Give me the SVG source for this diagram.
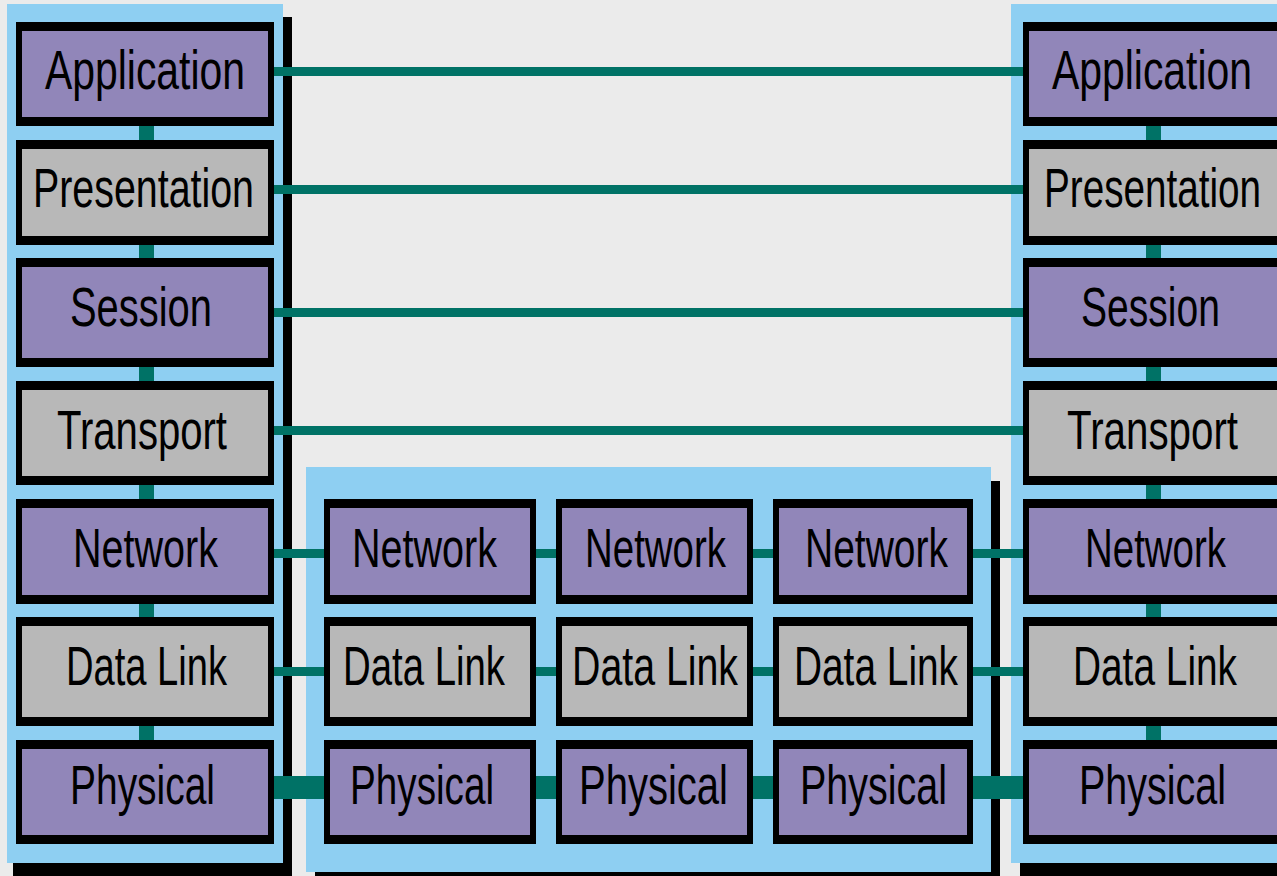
<svg xmlns="http://www.w3.org/2000/svg" width="1277" height="876" viewBox="0 0 1277 876">
<style>
.bg{fill:#EBEBEB}
.cont{fill:#8ECFF2}
.shadow{fill:#000}
.conn{fill:#007266}
.outer{fill:#000}
.p{fill:#9186B9}
.g{fill:#B8B8B8}
.t{font-family:"Liberation Sans Narrow","Liberation Sans",Arial,sans-serif;font-size:56px;fill:#000;text-anchor:middle}
</style>
<rect class="bg" x="0" y="0" width="1277" height="876"/>
<g id="containers">
<rect class="shadow" x="13" y="17" width="279" height="859"/>
<rect class="cont" x="7" y="4" width="276" height="859"/>
<rect class="shadow" x="315" y="481" width="685" height="395"/>
<rect class="cont" x="306" y="467" width="685" height="405"/>
<rect class="shadow" x="1020" y="17" width="257" height="859"/>
<rect class="cont" x="1011" y="4" width="266" height="859"/>
</g>
<g id="connectors">
<rect class="conn" x="139" y="120" width="15" height="630"/>
<rect class="conn" x="1146" y="120" width="15" height="630"/>
<rect class="conn" x="270" y="67" width="760" height="9"/>
<rect class="conn" x="270" y="185" width="760" height="9"/>
<rect class="conn" x="270" y="308" width="760" height="9"/>
<rect class="conn" x="270" y="426" width="760" height="9"/>
<rect class="conn" x="270" y="549" width="760" height="9"/>
<rect class="conn" x="270" y="667" width="760" height="9"/>
<rect class="conn" x="270" y="776" width="760" height="23"/>
</g>
<g id="left-application"><rect class="outer" x="16" y="22" width="258" height="104"/><rect class="p" x="22" y="31" width="246" height="86"/><text class="t" x="145" y="89" textLength="200" lengthAdjust="spacingAndGlyphs">Application</text></g>
<g id="left-presentation"><rect class="outer" x="16" y="140" width="258" height="105"/><rect class="g" x="22" y="149" width="246" height="87"/><text class="t" x="143.5" y="207" textLength="221" lengthAdjust="spacingAndGlyphs">Presentation</text></g>
<g id="left-session"><rect class="outer" x="16" y="258" width="258" height="109"/><rect class="p" x="22" y="267" width="246" height="91"/><text class="t" x="141" y="326" textLength="142" lengthAdjust="spacingAndGlyphs">Session</text></g>
<g id="left-transport"><rect class="outer" x="16" y="381" width="258" height="104"/><rect class="g" x="22" y="390" width="246" height="86"/><text class="t" x="142" y="449" textLength="170" lengthAdjust="spacingAndGlyphs">Transport</text></g>
<g id="left-network"><rect class="outer" x="16" y="499" width="258" height="105"/><rect class="p" x="22" y="508" width="246" height="87"/><text class="t" x="145.5" y="567" textLength="145" lengthAdjust="spacingAndGlyphs">Network</text></g>
<g id="left-datalink"><rect class="outer" x="16" y="617" width="258" height="109"/><rect class="g" x="22" y="626" width="246" height="91"/><text class="t" x="146.5" y="685" textLength="161" lengthAdjust="spacingAndGlyphs">Data Link</text></g>
<g id="left-physical"><rect class="outer" x="16" y="740" width="258" height="104"/><rect class="p" x="22" y="749" width="246" height="86"/><text class="t" x="142.5" y="804" textLength="145" lengthAdjust="spacingAndGlyphs">Physical</text></g>
<g id="mid1-network"><rect class="outer" x="324" y="499" width="212" height="105"/><rect class="p" x="330" y="508" width="200" height="87"/><text class="t" x="424.5" y="567" textLength="145" lengthAdjust="spacingAndGlyphs">Network</text></g>
<g id="mid1-datalink"><rect class="outer" x="324" y="617" width="212" height="109"/><rect class="g" x="330" y="626" width="200" height="91"/><text class="t" x="424" y="685" textLength="162" lengthAdjust="spacingAndGlyphs">Data Link</text></g>
<g id="mid1-physical"><rect class="outer" x="324" y="740" width="212" height="104"/><rect class="p" x="330" y="749" width="200" height="86"/><text class="t" x="422" y="804" textLength="144" lengthAdjust="spacingAndGlyphs">Physical</text></g>
<g id="mid2-network"><rect class="outer" x="556" y="499" width="197" height="105"/><rect class="p" x="562" y="508" width="185" height="87"/><text class="t" x="655.5" y="567" textLength="141" lengthAdjust="spacingAndGlyphs">Network</text></g>
<g id="mid2-datalink"><rect class="outer" x="556" y="617" width="197" height="109"/><rect class="g" x="562" y="626" width="185" height="91"/><text class="t" x="655" y="685" textLength="166" lengthAdjust="spacingAndGlyphs">Data Link</text></g>
<g id="mid2-physical"><rect class="outer" x="556" y="740" width="197" height="104"/><rect class="p" x="562" y="749" width="185" height="86"/><text class="t" x="653.5" y="804" textLength="149" lengthAdjust="spacingAndGlyphs">Physical</text></g>
<g id="mid3-network"><rect class="outer" x="773" y="499" width="200" height="105"/><rect class="p" x="779" y="508" width="188" height="87"/><text class="t" x="876.5" y="567" textLength="143" lengthAdjust="spacingAndGlyphs">Network</text></g>
<g id="mid3-datalink"><rect class="outer" x="773" y="617" width="200" height="109"/><rect class="g" x="779" y="626" width="188" height="91"/><text class="t" x="876" y="685" textLength="164" lengthAdjust="spacingAndGlyphs">Data Link</text></g>
<g id="mid3-physical"><rect class="outer" x="773" y="740" width="200" height="104"/><rect class="p" x="779" y="749" width="188" height="86"/><text class="t" x="873.5" y="804" textLength="147" lengthAdjust="spacingAndGlyphs">Physical</text></g>
<g id="right-application"><rect class="outer" x="1023" y="22" width="254" height="104"/><rect class="p" x="1029" y="31" width="248" height="86"/><text class="t" x="1152" y="89" textLength="200" lengthAdjust="spacingAndGlyphs">Application</text></g>
<g id="right-presentation"><rect class="outer" x="1023" y="140" width="254" height="105"/><rect class="g" x="1029" y="149" width="248" height="87"/><text class="t" x="1152.5" y="207" textLength="217" lengthAdjust="spacingAndGlyphs">Presentation</text></g>
<g id="right-session"><rect class="outer" x="1023" y="258" width="254" height="109"/><rect class="p" x="1029" y="267" width="248" height="91"/><text class="t" x="1150.5" y="326" textLength="139" lengthAdjust="spacingAndGlyphs">Session</text></g>
<g id="right-transport"><rect class="outer" x="1023" y="381" width="254" height="104"/><rect class="g" x="1029" y="390" width="248" height="86"/><text class="t" x="1152.5" y="449" textLength="171" lengthAdjust="spacingAndGlyphs">Transport</text></g>
<g id="right-network"><rect class="outer" x="1023" y="499" width="254" height="105"/><rect class="p" x="1029" y="508" width="248" height="87"/><text class="t" x="1155.5" y="567" textLength="141" lengthAdjust="spacingAndGlyphs">Network</text></g>
<g id="right-datalink"><rect class="outer" x="1023" y="617" width="254" height="109"/><rect class="g" x="1029" y="626" width="248" height="91"/><text class="t" x="1155" y="685" textLength="164" lengthAdjust="spacingAndGlyphs">Data Link</text></g>
<g id="right-physical"><rect class="outer" x="1023" y="740" width="254" height="104"/><rect class="p" x="1029" y="749" width="248" height="86"/><text class="t" x="1152.5" y="804" textLength="147" lengthAdjust="spacingAndGlyphs">Physical</text></g>
</svg>
